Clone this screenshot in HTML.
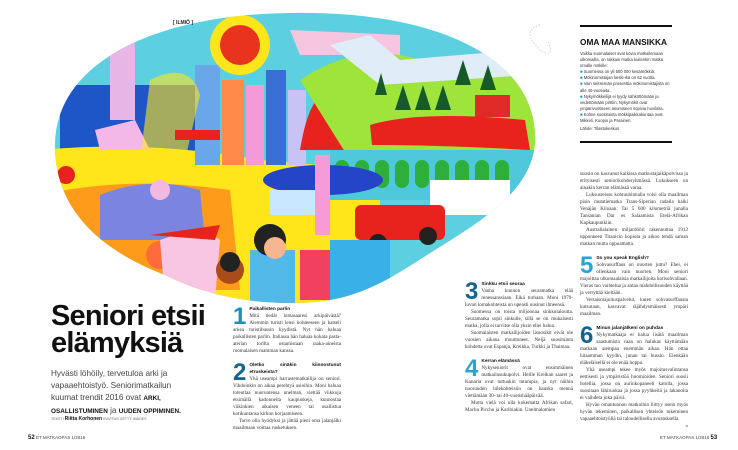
<!DOCTYPE html>
<html><head><meta charset="utf-8"><style>
html,body{margin:0;padding:0;background:#fff}
body{width:738px;height:450px;position:relative;overflow:hidden;font-family:"Liberation Serif",serif;color:#222}
.a{position:absolute}
.t{font-size:5.1px;line-height:7px;text-align:justify;color:#333}
.t p{margin:0;text-indent:6px}
.h{font-family:"Liberation Sans",sans-serif;font-weight:bold;font-size:4.8px;color:#111;text-indent:0!important}
.n{float:left;font-family:"Liberation Sans",sans-serif;font-weight:900;font-size:24px;line-height:19px;margin:1px 3px -3px 0;color:#1f8fbf}
.s{font-family:"Liberation Sans",sans-serif}
</style></head><body>
<svg class="a" style="left:0;top:0" width="738" height="310" viewBox="0 0 738 310">
<defs><clipPath id="c"><path d="M55,150 C52,65 150,15 290,13 C430,10 537,55 535,140 C534,190 480,222 435,250 C395,275 360,302 300,303 C240,304 200,292 165,275 C100,250 57,210 55,150Z"/></clipPath></defs>
<g clip-path="url(#c)">
<rect x="0" y="0" width="738" height="310" fill="#5cd0e0"/>
<rect x="60" y="85" width="160" height="75" fill="#1e56c8"/>
<path d="M40,150 Q150,140 260,160 L380,170 L380,310 L40,310Z" fill="#ffe61a"/>
<path d="M40,195 Q130,175 230,190 L240,290 L40,290Z" fill="#ff9b1a"/>
<path d="M95,130 L135,120 L150,150 L100,150Z" fill="#f3b8e8"/>
<rect x="110" y="30" width="25" height="90" fill="#e7b6e6"/>
<rect x="195" y="65" width="25" height="100" fill="#6aa7ea"/>
<rect x="222" y="80" width="22" height="85" fill="#ff8a4a"/>
<rect x="246" y="85" width="18" height="80" fill="#f59ad8"/>
<rect x="266" y="70" width="20" height="95" fill="#3b6fd8"/>
<rect x="288" y="90" width="18" height="75" fill="#c9c3f5"/>
<path d="M300,150 Q310,90 330,95 Q350,100 350,150Z" fill="#e8231e"/>
<circle cx="240" cy="45" r="30" fill="#ffe61a"/><circle cx="240" cy="45" r="20" fill="#e8341e"/>
<path d="M290,30 L400,35 L400,55 L300,55Z" fill="#f6c6e0"/>
<path d="M300,80 Q360,40 420,60 L530,70 L540,160 L350,160Z" fill="#9ee43a"/>
<path d="M330,45 L370,35 L400,60 L520,50 L530,75 L380,85Z" fill="#e0ecf8"/>
<g fill="#165a2a"><path d="M395,110 l8,-25 l8,25z"/><path d="M415,110 l8,-25 l8,25z"/><path d="M435,110 l8,-25 l8,25z"/><path d="M455,85 l8,-25 l8,25z"/><path d="M480,90 l8,-25 l8,25z"/><path d="M375,95 l6,-22 l6,22z"/></g>
<rect x="475" y="95" width="35" height="22" fill="#e02a28"/>
<path d="M370,125 Q420,110 525,120 L530,150 Q440,145 372,145Z" fill="#e8231e"/>
<path d="M330,150 L540,150 L540,200 L330,200Z" fill="#4fc8dc"/>
<g fill="#2eae3a"><rect x="335" y="160" width="14" height="28" rx="7"/><rect x="355" y="160" width="14" height="28" rx="7"/><rect x="375" y="160" width="14" height="28" rx="7"/><rect x="395" y="160" width="14" height="28" rx="7"/><rect x="415" y="160" width="14" height="28" rx="7"/><rect x="435" y="160" width="14" height="28" rx="7"/><rect x="455" y="160" width="14" height="28" rx="7"/><rect x="475" y="160" width="14" height="28" rx="7"/><rect x="495" y="160" width="14" height="28" rx="7"/></g>
<rect x="430" y="180" width="80" height="35" fill="#fff"/>
<ellipse cx="323" cy="180" rx="60" ry="15" fill="#2545c8"/>
<rect x="270" y="190" width="60" height="25" fill="#c8e8ff"/>
<path d="M100,195 Q150,175 200,190 L205,240 L100,240Z" fill="#7b85e0"/>
<circle cx="160" cy="190" r="10" fill="#f2b8e0"/>
<circle cx="66" cy="175" r="9" fill="#e8231e"/>
<path d="M150,80 Q190,60 200,95 L185,160 L140,160Z" fill="#ffe61a" opacity=".6"/>
<rect x="355" y="205" width="90" height="35" rx="6" fill="#e8231e"/>
<circle cx="378" cy="243" r="9" fill="#222"/><circle cx="428" cy="236" r="9" fill="#222"/>
<rect x="330" y="240" width="60" height="70" fill="#3ab0e8"/>
<circle cx="160" cy="255" r="14" fill="#ff6b3a"/>
<path d="M160,240 Q200,225 220,240 L215,300 L165,300Z" fill="#f8c6e2"/>
<path d="M150,235 L220,225 L215,240Z" fill="#e8231e"/>
<circle cx="230" cy="270" r="14" fill="#a84c1c"/><circle cx="230" cy="262" r="10" fill="#222"/>
<rect x="250" y="250" width="45" height="55" fill="#52b8e8"/>
<circle cx="270" cy="240" r="16" fill="#222"/><circle cx="275" cy="248" r="11" fill="#f7b690"/>
<rect x="300" y="250" width="30" height="50" fill="#f14060"/>
<rect x="315" y="155" width="15" height="80" fill="#f69ad8"/>
<rect x="175" y="130" width="45" height="10" fill="#e8231e"/>
</g>
<text x="173" y="24" font-family="Liberation Sans,sans-serif" font-size="5px" font-weight="bold" fill="#222">[ ILMIÖ ]</text>
<path d="M540,25 Q520,30 540,50 Q555,60 548,40" fill="none" stroke="#e7a6c7" stroke-dasharray="1.5,1.5" stroke-width=".7"/>
</svg>

<div class="a s" style="left:51px;top:303px;font-size:29px;line-height:27px;font-weight:900;letter-spacing:-0.8px;color:#111">Seniori etsii<br>elämyksiä</div>
<div class="a s" style="left:51px;top:368px;white-space:nowrap;font-size:8.2px;line-height:12px;color:#444">Hyvästi löhöily, tervetuloa arki ja<br>vapaaehtoistyö. Seniorimatkailun<br>kuumat trendit 2016 ovat <b style="font-size:6.4px;color:#111">ARKI,</b><br><b style="font-size:6.4px;color:#111">OSALLISTUMINEN</b> ja <b style="font-size:6.4px;color:#111">UUDEN OPPIMINEN.</b></div>
<div class="a s" style="left:51px;top:416px;font-size:3.6px;color:#666">TEKSTI <b style="font-size:5px;color:#111">Riitta Korhonen</b> KUVITUS GETTY IMAGES</div>
<div class="a s" style="left:28px;top:435px;font-size:4.5px;color:#444"><b style="font-size:6px;color:#111">52</b> ET MATKAOPAS 1/2016</div>
<div class="a s" style="left:660px;top:435px;font-size:4.5px;color:#444">ET MATKAOPAS 1/2016 <b style="font-size:6px;color:#111">53</b></div>

<div class="a t" style="left:233px;top:306px;width:108px">
<p class="h"><span class="n">1</span>Paikallisten parlin</p>
<p style="text-indent:0">Mitä tiedät lomasaaresi arkipäivästä? Aiemmin turisti lensi kohteeseen ja katseli arkea turistibussin kyydistä. Nyt hän haluaa paikallisten parlin. Italiassa hän haluaa kokata pasta-aterian torilta ostamistaan raaka-aineista roomalaisen mamman kanssa.</p>
<p class="h" style="margin-top:7px"><span class="n" style="color:#16638f">2</span>Oletko sinäkin kiinnostunut etruskeista?</p>
<p style="text-indent:0">Yhä useampi harrastematkailija on seniori. Vihdoinkin on aikaa perehtyä asioihin. Moni haluaa toteuttaa nuoruutensa unelman, viettää viikkoja etsimällä kadonneita kaupunkeja, kunnostaa viikinkien aikaisen veneen tai osallistua kotikuntansa kirkon korjaamiseen.</p>
<p>Tarve olla hyödyksi ja jättää pieni oma jalanjälki maailmaan voittaa rusketuksen.</p>
</div>

<div class="a t" style="left:465px;top:281px;width:108px">
<p class="h"><span class="n" style="color:#16638f">3</span>Sinkku etsii seuraa</p>
<p style="text-indent:0">Vanha kunnon seuramatka elää renessanssiaan. Eikä turhaan. Moni 1970-luvun lomakohteista on upeasti uusinut ilmeensä.</p>
<p>Suomessa on toista miljoonaa sinkkutaloutta. Seuramatka sopii sinkulle, sillä se on mukaisesti matka, jolla ei tarvitse olla yksin ellei halua.</p>
<p>Suomalaisten matkailijoiden lisuosikit eivät ole vuosien aikana muuttuneet. Neljä suosituinta kohdetta ovat Espanja, Kreikka, Turkki ja Thaimaa.</p>
<p class="h" style="margin-top:7px"><span class="n" style="color:#2aa4d8">4</span>Kerran elämässä</p>
<p style="text-indent:0">Nykyseniorit ovat ensimmäinen matkailusukupolvi. Heille Kreikan saaret ja Kanaria ovat tuttuakin tutumpia, ja nyt näihin nuoruuden bilekohteisiin on hauska mennä viettämään 30- tai 40-vuotishääpäivää.</p>
<p>Mutta vielä voi olla kokematta Afrikan safari, Machu Picchu ja Karibiakin. Unelmalomien</p>
</div>

<div class="a" style="left:580px;top:25px;width:92px;border-top:2.5px solid #111;border-bottom:2.5px solid #111;height:114px">
<div class="s" style="font-weight:900;font-size:8.3px;margin-top:10px;color:#111">OMA MAA MANSIKKA</div>
<div class="s" style="font-size:4.2px;line-height:6.1px;color:#333;margin-top:4px">Vaikka suomalaiset ovat kovia matkailemaan ulkomailla, on rakkain matka kuitenkin matka omalle mökille:<br>
<span style="color:#1f8fbf">■</span> Suomessa on yli 500 000 kesämökkiä.<br>
<span style="color:#1f8fbf">■</span> Mökinomistajan keski-ikä on 62 vuotta.<br>
<span style="color:#1f8fbf">■</span> Vain seitsemän prosenttia mökinomistajista on alle 40-vuotiaita.<br>
<span style="color:#1f8fbf">■</span> Nykymökkeilijä ei tyydy sähköttömään ja vedettömään pirttiin. Nykymökit ovat ympärivuotiseen asumiseen sopivia huviloita.<br>
<span style="color:#1f8fbf">■</span> Kolme suosituinta mökkipaikkakuntaa ovat Mikkeli, Kuopio ja Parainen.<br><span style="display:block;margin-top:2px">Lähde: Tilastokeskus</span></div>
</div>

<div class="a t" style="left:580px;top:171px;width:108px">
<p style="text-indent:0">suosio on kasvanut kaikissa matkustajaikäpolvissa ja erityisesti seniorikohderyhmässä. Lukukseen on ainakin kerran elämässä varaa.</p>
<p>Luksusreissu kohtuuhinnalla voisi olla maailman pisin rautatiematka Trans-Siperian radalla halki Venäjän Kiinaan. Tai 5 600 kilometriä junalla Tansanian Dar es Salaamista Etelä-Afrikan Kapkaupunkiin.</p>
<p>Australialainen miljardööri rakennuttaa 1912 upponneen Titanicin kopiota ja aikoo tehdä saman matkan mutta uppoamatta.</p>
<p class="h" style="margin-top:7px"><span class="n" style="color:#2aa4d8">5</span>So you speak English?</p>
<p style="text-indent:0">Sohvasurffaus on nuorten juttu? Ehei, ei ollenkaan vain nuorten. Moni seniori majoittaa ulkomaalaisia matkailijoita kotisohvallaan. Vieras tuo vaihtelua ja antaa mahdollisuuden käyttää ja verryttää kieltään.</p>
<p>Vertaismajoituspalvelut, kuten sohvasurffausta kutsutaan, kasvavat räjähdysmäisesti ympäri maailman.</p>
<p class="h" style="margin-top:7px"><span class="n" style="color:#16638f">6</span>Minun jalanjälkeni on puhdas</p>
<p style="text-indent:0">Nykymatkaaja ei halua lisätä maailman saastumista vaan on halukas käyttämään matkaan aiempaa enemmän aikaa. Hän ottaa hitaamman kyydin, junan tai bussin. Eienkään eläkeläisellä ei ole enää hoppu.</p>
<p>Yhä useampi tekee myös majoitusvalintansa eettisesti ja ympäristöä huomioiden. Seniori suosii hotellia, jossa on aurinkopaneeli katolla, jossa suositaan lähiruokaa ja jossa pyyhkeitä ja lakanoita ei vaihdeta joka päivä.</p>
<p>Hyvän omantunnon matkoihin liittyy usein myös hyvän tekeminen, paikallisen yhteisön tukeminen vapaaehtoistyöllä tai taloudellisella avustuksella. <span style="float:right">»</span></p>
</div>
</body></html>
